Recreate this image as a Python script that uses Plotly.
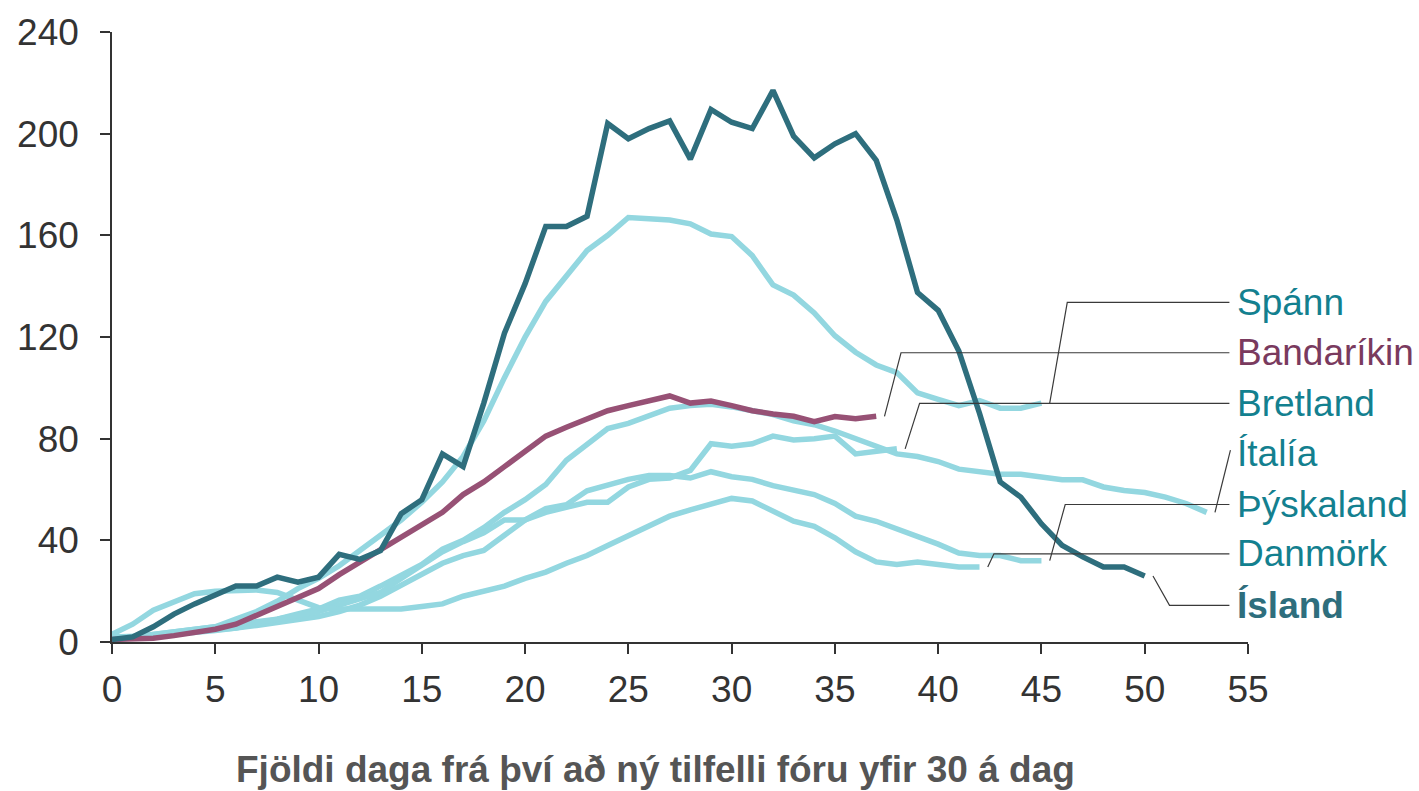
import plotly.graph_objects as go

# ---------------- data ----------------
island = [1, 2, 6, 11, 15, 18.5, 22, 22, 25.5, 23.5, 25.5, 34.5, 32.5, 36, 50.5, 56, 74, 69, 94,
          121.5, 141, 163.5, 163.5, 167.5, 204, 198, 202, 205, 190, 209.5, 204.5, 202, 217, 199,
          190.5, 196, 200, 189.5, 166, 137.5, 130.5, 114.5, 90, 63, 57, 46.5, 38, 33.5, 29.5, 29.5, 26]
spann = [2, 2, 3, 4, 5, 6, 9, 12, 16, 21, 25, 30, 36, 42, 48, 55, 63, 73, 87, 104, 120, 134, 144,
         154, 160, 167, 166.5, 166, 164.5, 160.5, 159.5, 152, 140.5, 136.5, 129.5, 120.5, 114, 109,
         106, 98, 95.5, 93, 95, 92, 92, 94]
bandarikin = [1, 1, 1.5, 2.5, 3.5, 5, 7, 10.5, 13.5, 17.5, 21, 26.5, 31.5, 36, 41, 46, 51, 58, 63,
              69, 75, 81, 84.5, 87.5, 91, 93, 95, 96.8, 94, 94.8, 93, 91, 89.7, 88.8, 86.7, 88.7,
              87.8, 88.8]
bretland = [1, 1.5, 2, 3, 4, 4.5, 5.5, 6.5, 7.5, 8.5, 10, 12, 14.5, 18, 22.5, 27, 31, 34, 36, 42,
            48, 51, 53, 55, 55, 61, 64, 64.5, 67.5, 78, 77, 78, 81, 79.5, 80, 81, 74, 75, 76]
italia = [2, 2, 2.5, 3, 3.5, 4.5, 5.5, 7, 9, 11, 13, 16.5, 18, 22, 26.5, 30.5, 36.5, 40, 45, 51,
          56, 62, 71.5, 78, 84, 86, 89, 92, 93, 93.5, 92.5, 91, 89.5, 87, 85.5, 83, 80, 76.5, 74,
          73, 71, 68, 67, 66, 66, 64.7, 63.8, 63.8, 61, 59.6, 58.8, 57, 54.5, 51]
thyskaland = [1, 2, 2.5, 3.5, 4.5, 5.5, 6.5, 7.5, 9, 10.5, 12, 14.5, 17, 19.5, 25, 30, 35.5, 39.5,
              43, 48, 48, 52.5, 54, 59.5, 62, 64, 65.5, 65.5, 64.5, 67, 65, 64, 61.5, 60, 58, 54.5,
              49.5, 47.5, 44.5, 42, 38.5, 35, 34, 34, 32, 32]
danmork = [3, 7, 12.5, 16, 19, 20, 20.5, 20.5, 19.5, 16.5, 13.5, 13, 13, 13, 13, 14, 15, 18, 20, 22,
           25, 27.5, 31, 34, 38, 42, 46, 49.5, 52, 54.5, 56.5, 55.5, 51.5, 47.5, 45.5, 41, 35.5,
           31.5, 30.5, 31.5, 30.5, 29.5, 29.5]

x_ticks = [0, 5, 10, 15, 20, 25, 30, 35, 40, 45, 50, 55]
y_ticks = [0, 40, 80, 120, 160, 200, 240]
x_title = "Fjöldi daga frá því að ný tilfelli fóru yfir 30 á dag"

DARK = "#2E6E7D"
PURPLE = "#975175"
LIGHT = "#93D7E0"
TEAL_TXT = "#13808F"

FONT = "Liberation Sans, Arial, sans-serif"
FS = 37

# series: name, values, line colour, label colour, bold, label slot (row), elbow offset
series = [
    ("Spánn", spann, LIGHT, TEAL_TXT, False, 0, 0.85),
    ("Bandaríkin", bandarikin, PURPLE, "#7A3A5E", False, 1, 0.8),
    ("Bretland", bretland, LIGHT, TEAL_TXT, False, 2, 0.7),
    ("Ítalía", italia, LIGHT, TEAL_TXT, False, 3, None),
    ("Þýskaland", thyskaland, LIGHT, TEAL_TXT, False, 4, 0.75),
    ("Danmörk", danmork, LIGHT, TEAL_TXT, False, 5, 0.3),
    ("Ísland", island, DARK, DARK, True, 6, 0.8),
]

fig = go.Figure()

# draw order: light first, then purple, then dark
order = [s for s in series if s[2] == LIGHT] + [s for s in series if s[2] == PURPLE] + \
        [s for s in series if s[2] == DARK]
for name, vals, col, _, _, _, _ in order:
    fig.add_trace(go.Scatter(
        x=list(range(len(vals))), y=vals, mode="lines", name=name,
        line=dict(color=col, width=5.5), hoverinfo="x+y+name", showlegend=False))

# label rows (y in data units), leader lines and labels
label_rows_y = [133.6, 113.8, 93.9, 74.0, 54.1, 34.7, 14.4]
label_x_end = 54.1
for name, vals, col, tcol, bold, row, elbow in series:
    lx = len(vals) - 1
    ly = vals[-1]
    ry = label_rows_y[row]
    start = (lx + 0.4, ly)
    if elbow is None:
        xs = [start[0], start[0] + 0.75]
        ys = [start[1], ry + 1.5]
    else:
        xs = [start[0], start[0] + elbow, label_x_end]
        ys = [start[1], ry, ry]
    fig.add_trace(go.Scatter(x=xs, y=ys, mode="lines", showlegend=False, hoverinfo="skip",
                             line=dict(color="#3a3a3a", width=1.2)))
    fig.add_annotation(x=label_x_end + 0.25, y=ry, xref="x", yref="y",
                       text=(f"<b>{name}</b>" if bold else name),
                       showarrow=False, xanchor="left", yanchor="middle",
                       font=dict(family=FONT, size=FS, color=tcol))

fig.add_annotation(x=0.478, y=-0.209, xref="paper", yref="paper", text=f"<b>{x_title}</b>",
                   showarrow=False, xanchor="center", yanchor="middle",
                   font=dict(family=FONT, size=FS, color="#555555"))

fig.update_layout(
    width=1419, height=791,
    margin=dict(l=112, r=171, t=19, b=149),
    paper_bgcolor="white", plot_bgcolor="white",
    showlegend=False,
)
fig.update_xaxes(range=[0, 55], tickvals=x_ticks, ticktext=[str(v) for v in x_ticks],
                 showgrid=False, zeroline=False, showline=True, linecolor="#333333", linewidth=1.5,
                 ticks="outside", ticklen=10, tickwidth=1.5, tickcolor="#333333",
                 ticklabelstandoff=4, ticklabeloverflow="allow",
                 tickfont=dict(family=FONT, size=FS, color="#333333"))
fig.update_yaxes(range=[0, 240], tickvals=y_ticks, ticktext=[str(v) for v in y_ticks],
                 showgrid=False, zeroline=False, showline=True, linecolor="#333333", linewidth=1.5,
                 ticks="outside", ticklen=10, tickwidth=1.5, tickcolor="#333333",
                 ticklabelstandoff=14, ticklabeloverflow="allow",
                 tickfont=dict(family=FONT, size=FS, color="#333333"))

# remove the default 8px page margin so the 1419x791 figure fills the window exactly
fig.write_html("out.html",
               config={"displayModeBar": False},
               post_script="document.body.style.margin='0';"
                           "document.documentElement.style.overflow='hidden';")
